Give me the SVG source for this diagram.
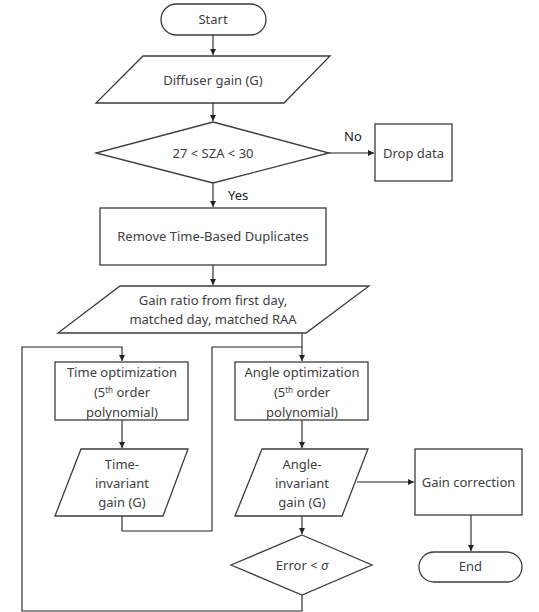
<svg xmlns="http://www.w3.org/2000/svg" width="539" height="612" viewBox="0 0 539 612">
<defs>
<marker id="ah" viewBox="0 0 6 6" refX="6" refY="3" markerWidth="6" markerHeight="6" markerUnits="userSpaceOnUse" orient="auto">
<path d="M0,0 L6,3 L0,6 z" fill="#222"/>
</marker>
<style>
.s{fill:#fff;stroke:#3c3c3c;stroke-width:1.3}
.t{font-family:"Noto Sans","Liberation Sans",sans-serif;font-size:13px;fill:#404040;text-anchor:middle}
.c{fill:none;stroke:#222;stroke-width:1.1}
.l{font-family:"Noto Sans","Liberation Sans",sans-serif;font-size:13px;fill:#222}
</style>
</defs>
<rect width="539" height="612" fill="#fff"/>
<g id="connectors">
<path class="c" d="M213,35 V55" marker-end="url(#ah)"/>
<path class="c" d="M213,103 V121" marker-end="url(#ah)"/>
<path class="c" d="M329,153 H374" marker-end="url(#ah)"/>
<path class="c" d="M213,183 V207" marker-end="url(#ah)"/>
<path class="c" d="M213,265 V285" marker-end="url(#ah)"/>
<path class="c" d="M302,333 V361" marker-end="url(#ah)"/>
<path class="c" d="M122,516 V531 H212 V347 H302"/>
<path class="c" d="M302,595 V611 H22 V347 H122 V361" marker-end="url(#ah)"/>
<path class="c" d="M122,420 V448" marker-end="url(#ah)"/>
<path class="c" d="M302,420 V448" marker-end="url(#ah)"/>
<path class="c" d="M302,516 V534" marker-end="url(#ah)"/>
<path class="c" d="M357,482 H414" marker-end="url(#ah)"/>
<path class="c" d="M471,515 V551" marker-end="url(#ah)"/>
<text class="l" x="344" y="141">No</text>
<text class="l" x="228" y="200">Yes</text>
</g>
<g id="start">
<rect class="s" x="161" y="4" width="105" height="31" rx="15.5"/>
<text class="t" x="213" y="24">Start</text>
</g>
<g id="diffuser">
<polygon class="s" points="143,56 330,56 284,103 96,103"/>
<text class="t" x="213" y="85">Diffuser gain (G)</text>
</g>
<g id="sza">
<polygon class="s" points="213,122 329,153 213,183 96,153"/>
<text class="t" x="213" y="158">27 &lt; SZA &lt; 30</text>
</g>
<g id="drop">
<rect class="s" x="375" y="124" width="77" height="57"/>
<text class="t" x="413.5" y="158">Drop data</text>
</g>
<g id="remove">
<rect class="s" x="100" y="208" width="226" height="57"/>
<text class="t" x="213" y="241">Remove Time-Based Duplicates</text>
</g>
<g id="gainratio">
<polygon class="s" points="120,286 369,286 306,333 58,333"/>
<text class="t" x="213" y="305">Gain ratio from first day,</text>
<text class="t" x="213" y="324">matched day, matched RAA</text>
</g>
<g id="timeopt">
<rect class="s" x="55" y="362" width="133" height="58"/>
<text class="t" x="122" y="377">Time optimization</text>
<text class="t" x="122" y="397">(5<tspan font-size="8" dy="-4">th</tspan><tspan dy="4"> order</tspan></text>
<text class="t" x="122" y="417">polynomial)</text>
</g>
<g id="angleopt">
<rect class="s" x="235" y="362" width="133" height="58"/>
<text class="t" x="302" y="377">Angle optimization</text>
<text class="t" x="302" y="397">(5<tspan font-size="8" dy="-4">th</tspan><tspan dy="4"> order</tspan></text>
<text class="t" x="302" y="417">polynomial)</text>
</g>
<g id="timeinv">
<polygon class="s" points="81,449 188,449 163,516 55,516"/>
<text class="t" x="122" y="469">Time-</text>
<text class="t" x="122" y="488">invariant</text>
<text class="t" x="122" y="507">gain (G)</text>
</g>
<g id="angleinv">
<polygon class="s" points="262,449 368,449 342,516 235,516"/>
<text class="t" x="302" y="469">Angle-</text>
<text class="t" x="302" y="488">invariant</text>
<text class="t" x="302" y="507">gain (G)</text>
</g>
<g id="gaincorr">
<rect class="s" x="415" y="449" width="107" height="66"/>
<text class="t" x="468.5" y="487">Gain correction</text>
</g>
<g id="error">
<polygon class="s" points="302,535 372,565 302,595 231,565"/>
<text class="t" x="302" y="570">Error &lt; <tspan font-style="italic">σ</tspan></text>
</g>
<g id="end">
<rect class="s" x="419" y="552" width="103" height="30" rx="15"/>
<text class="t" x="470.5" y="571">End</text>
</g>
</svg>
